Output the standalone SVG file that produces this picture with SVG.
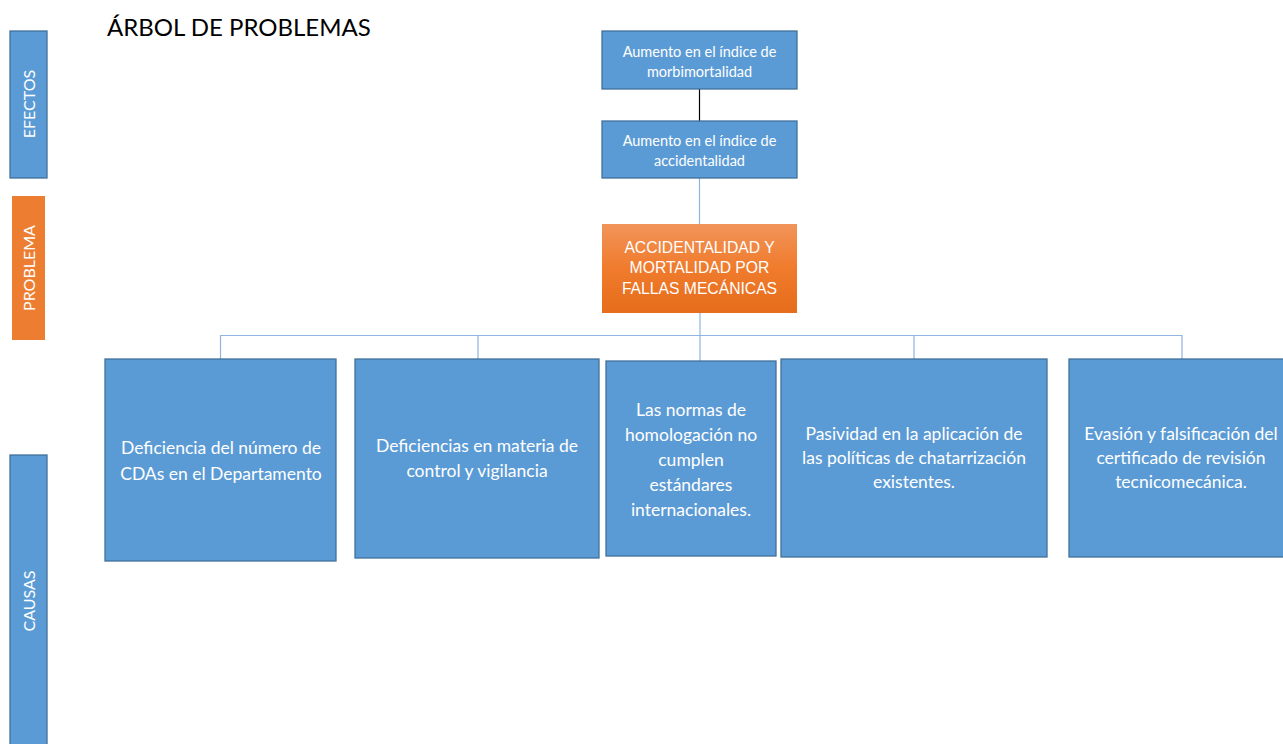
<svg xmlns="http://www.w3.org/2000/svg" width="1283" height="744" viewBox="0 0 1283 744">
<defs>
<linearGradient id="og" x1="0" y1="0" x2="0" y2="1">
<stop offset="0" stop-color="#f1945a"/>
<stop offset="0.5" stop-color="#f07b2c"/>
<stop offset="1" stop-color="#e56d1c"/>
</linearGradient>
<style>
.b{fill:#5b9bd5;stroke:#41719c;stroke-width:1.3}
.t{font-family:Lato,"Open Sans","Liberation Sans",sans-serif;fill:#fff;text-anchor:middle}
.v{font-size:16px}
.s{font-size:14.5px}
.m{font-size:17.5px}
.a{font-family:"Liberation Sans",Arial,sans-serif;fill:#fff;text-anchor:middle;font-size:15.7px}
.c{fill:none;stroke:#8fb5e0;stroke-width:1.2}
</style>
</defs>
<rect width="1283" height="744" fill="#fff"/>
<text x="107" y="36" font-family="Lato,'Open Sans',sans-serif" font-size="24" fill="#000">ÁRBOL DE PROBLEMAS</text>

<g id="efectos"><rect class="b" x="10" y="31" width="37" height="147"/><text class="t v" transform="translate(34.5,104) rotate(-90)">EFECTOS</text></g>
<g id="problema"><rect x="12" y="196" width="33" height="144" fill="#ed7d31"/><text class="t v" transform="translate(34.5,268) rotate(-90)">PROBLEMA</text></g>
<g id="causas"><rect class="b" x="10" y="455" width="37" height="295"/><text class="t v" transform="translate(34.5,601) rotate(-90)">CAUSAS</text></g>

<g id="connectors">
<line x1="699.5" y1="89" x2="699.5" y2="121" stroke="#000" stroke-width="1.2"/>
<line class="c" x1="699.5" y1="178" x2="699.5" y2="224"/>
<line class="c" x1="700" y1="313" x2="700" y2="361" stroke-width="2.2"/>
<polyline class="c" points="220.5,359 220.5,335.5 1182,335.5 1182,359"/>
<line class="c" x1="478" y1="335.5" x2="478" y2="359"/>
<line class="c" x1="914" y1="335.5" x2="914" y2="359"/>
</g>

<g id="e1"><rect class="b" x="602" y="31" width="195" height="58"/><text class="t s" x="699.5" y="57">Aumento en el índice de</text><text class="t s" x="699.5" y="77">morbimortalidad</text></g>
<g id="e2"><rect class="b" x="602" y="121" width="195" height="57"/><text class="t s" x="699.5" y="146">Aumento en el índice de</text><text class="t s" x="699.5" y="166">accidentalidad</text></g>
<g id="p"><rect x="602" y="224" width="195" height="89" fill="url(#og)"/><text class="a" x="699.5" y="253">ACCIDENTALIDAD Y</text><text class="a" x="699.5" y="273">MORTALIDAD POR</text><text class="a" x="699.5" y="294">FALLAS MECÁNICAS</text></g>

<g id="c1"><rect class="b" x="105" y="359" width="231" height="202"/><text class="t m" x="221" y="454">Deficiencia del número de</text><text class="t m" x="221" y="480">CDAs en el Departamento</text></g>
<g id="c2"><rect class="b" x="355" y="359" width="244" height="199"/><text class="t m" x="477" y="452">Deficiencias en materia de</text><text class="t m" x="477" y="477">control y vigilancia</text></g>
<g id="c3"><rect class="b" x="606" y="361" width="170" height="195"/><text class="t m" x="691" y="416">Las normas de</text><text class="t m" x="691" y="441">homologación no</text><text class="t m" x="691" y="466">cumplen</text><text class="t m" x="691" y="491">estándares</text><text class="t m" x="691" y="516">internacionales.</text></g>
<g id="c4"><rect class="b" x="781" y="359" width="266" height="198"/><text class="t m" x="914" y="440">Pasividad en la aplicación de</text><text class="t m" x="914" y="464">las políticas de chatarrización</text><text class="t m" x="914" y="488">existentes.</text></g>
<g id="c5"><rect class="b" x="1069" y="359" width="220" height="198"/><text class="t m" x="1181" y="440">Evasión y falsificación del</text><text class="t m" x="1181" y="464">certificado de revisión</text><text class="t m" x="1181" y="488">tecnicomecánica.</text></g>
</svg>
